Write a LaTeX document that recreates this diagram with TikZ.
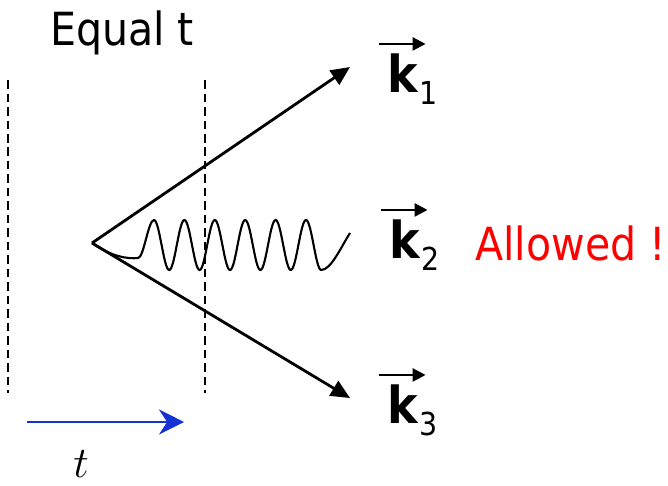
\documentclass[tikz,border=0pt]{standalone}
\usepackage{fontspec}
\setmainfont{DejaVu Sans Condensed}
\usetikzlibrary{arrows.meta,calc}
\definecolor{timeblue}{RGB}{20,50,210}
\tikzset{
  ray/.style={line width=1.6pt,-{Triangle[length=0.38cm,width=0.34cm]}},
  guide/.style={line width=1.1pt,dash pattern=on 0.17cm off 0.1cm},
  wave/.style={line width=1.2pt},
  kbold/.style={font=\fontsize{29}{30}\selectfont\bfseries,inner sep=0pt,anchor=base},
  ksub/.style={font=\fontsize{18}{20}\selectfont,inner sep=0pt,anchor=base west},
  vecbar/.style={line width=1.4pt,-{Triangle[length=0.26cm,width=0.26cm]}},
  caption/.style={font=\fontsize{26}{30}\selectfont,inner sep=0pt,anchor=base},
  timearrow/.style={timeblue,line width=1.6pt,-{Stealth[length=0.5cm,width=0.5cm]}}
}
\begin{document}
\begin{tikzpicture}[x=0.02cm,y=-0.02cm]
  \useasboundingbox (0,0) rectangle (668,485);
  \coordinate (V) at (92,243);
  % two time slices
  \coordinate (L0) at (8,80);
  \coordinate (L1) at (8,393);
  \coordinate (R0) at (205,80);
  \coordinate (R1) at (205,393);
  \draw[guide] (L0) -- (L1);
  \draw[guide] (R0) -- (R1);
  \node[caption] (eq) at (122,45) {Equal t};
  % outgoing momenta
  \node[kbold] (k1) at (403,92) {k};
  \node[kbold] (k2) at (405,258) {k};
  \node[kbold] (k3) at (403,423) {k};
  \foreach \n in {1,2,3} {
    \node[ksub] (s\n) at ($(k\n.base east)+(1,12)$) {\n};
    \draw[vecbar] ($(k\n.north west)+(-8,-9)$) -- ($(k\n.north east)+(7,-9)$);
  }
  \coordinate (E1) at (350,67);
  \coordinate (E3) at (350,398);
  \draw[ray] (V) -- (E1);
  \draw[ray] (V) -- (E3);
  \draw[wave] (V) .. controls (112,257) and (128,259) .. (138,258)
    cos (146,239) sin (154,220)
    \foreach \i in {1,...,5} { cos ++(7.6,25) sin ++(7.6,25) cos ++(7.6,-25) sin ++(7.6,-25) }
    cos ++(7.6,25) sin ++(7.6,25)
    .. controls (331,270) and (341,247) .. (350,233);
  \node[caption,text=red,anchor=base west] (ok) at (475,260) {Allowed !};
  % time direction
  \coordinate (T0) at (27,422);
  \coordinate (T1) at (184,422);
  \draw[timearrow] (T0) -- (T1);
  \node[caption,font=\fontsize{28}{30}\selectfont] (tl) at (81,477) {$t$};
\end{tikzpicture}
\end{document}
